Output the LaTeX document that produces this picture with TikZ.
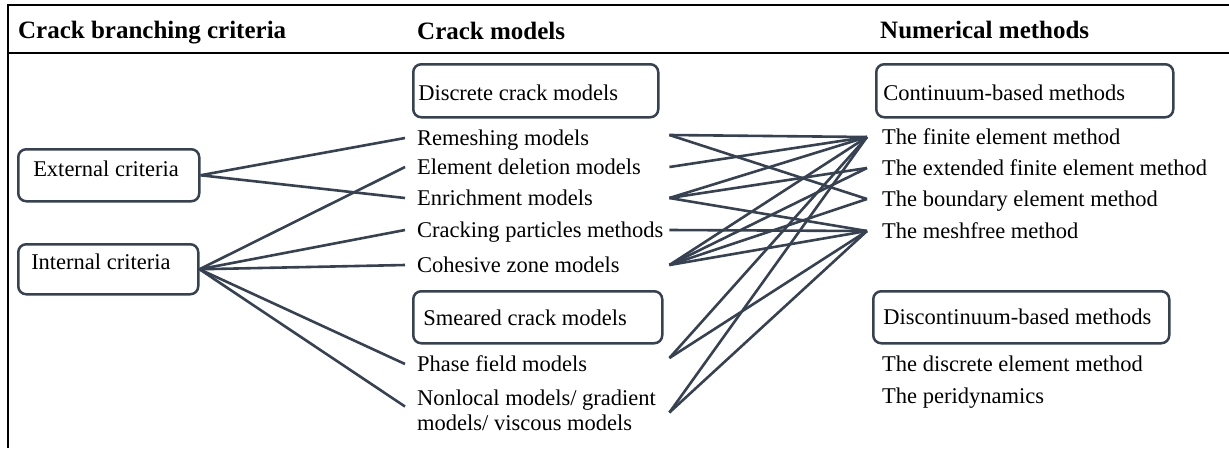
\documentclass[tikz,border=0pt]{standalone}
\usepackage{fontspec}
\setmainfont{Liberation Serif}
\definecolor{ln}{HTML}{364152}
\newcommand\mylbox[2]{\makebox[#1][l]{#2}}
\begin{document}
\begin{tikzpicture}[x=1pt,y=-1pt,
  bodyfont/.style={font=\fontsize{22.5}{25}\selectfont},
  box/.style={bodyfont, draw=ln, line width=2.5pt, rounded corners=8pt, anchor=north west, inner ysep=2pt},
  item/.style={bodyfont, anchor=base west, inner ysep=0pt, text height=18pt, text depth=4pt},
  cmitem/.style={item, inner xsep=12pt},
  nmitem/.style={item, inner xsep=15pt},
  conn/.style={draw=ln, line width=2.6pt},
  frame/.style={draw=black, line width=2.4pt},
  head/.style={anchor=base west, inner sep=0pt, font=\fontsize{25}{28}\selectfont\bfseries}]
\useasboundingbox (0,0) rectangle (1229,448);
% frame
\coordinate (ftl) at (8,5);
\coordinate (ftr) at (1229,5);
\coordinate (fbl) at (8,448);
\coordinate (htl) at (8,53);
\coordinate (htr) at (1229,53);
\draw[frame] (ftr) -- (ftl) -- (fbl);
\draw[frame] (htl) -- (htr);
% headers
\node[head] (h1) at (18,38) {Crack branching criteria};
\node[head] (h2) at (417,39) {Crack models};
\node[head] (h3) at (880,38) {Numerical methods};
% boxes
\node[box, inner xsep=15pt, minimum height=52pt, text height=15pt, text depth=13pt] (ext) at (17,148) {\mylbox{151pt}{External criteria}};
\node[box, inner xsep=13pt, minimum height=50pt, text height=15pt, text depth=15pt] (int) at (17,243) {\mylbox{154pt}{Internal criteria}};
\node[box, inner xsep=5pt, minimum height=53pt, text height=19pt, text depth=0pt] (dcm) at (412,63) {\mylbox{235pt}{Discrete crack models}};
\node[box, inner xsep=7pt, minimum height=53pt, text height=19pt, text depth=0pt] (cbm) at (875,63) {\mylbox{283pt}{Continuum-based methods}};
\node[box, inner xsep=10pt, minimum height=52pt, text height=16pt, text depth=0pt] (scm) at (412,290) {\mylbox{229pt}{Smeared crack models}};
\node[box, inner xsep=10pt, minimum height=52pt, text height=15pt, text depth=1pt] (dbm) at (872,290) {\mylbox{276pt}{Discontinuum-based methods}};
% crack model items
\node[cmitem] (rem) at (405,145) {\mylbox{240pt}{Remeshing models}};
\node[cmitem] (eld) at (405,174) {\mylbox{240pt}{Element deletion models}};
\node[cmitem] (enr) at (405,205) {\mylbox{240pt}{Enrichment models}};
\node[cmitem] (crp) at (405,237) {\mylbox{240pt}{Cracking particles methods}};
\node[cmitem] (coh) at (405,272) {\mylbox{240pt}{Cohesive zone models}};
\node[cmitem] (phf) at (405,371) {\mylbox{240pt}{Phase field models}};
\node[bodyfont, anchor=base west, inner ysep=0pt, inner xsep=12pt] (nl) at (405,405) {\mylbox{240pt}{\begin{tabular}[t]{@{}l@{}}Nonlocal models/ gradient\\models/ viscous models\end{tabular}}};
% numerical method items
\node[nmitem] (fem) at (867,144) {The finite element method};
\node[nmitem] (xfem) at (867,175) {The extended finite element method};
\node[nmitem] (bem) at (867,206) {The boundary element method};
\node[nmitem] (mf) at (867,238) {The meshfree method};
\node[nmitem] (dem) at (867,371) {The discrete element method};
\node[nmitem] (peri) at (867,403) {The peridynamics};
% connectors: criteria -> crack models
\draw[conn] (ext.east) -- (rem.west);
\draw[conn] (ext.east) -- (enr.west);
\draw[conn] (int.east) -- (eld.west);
\draw[conn] (int.east) -- (crp.west);
\draw[conn] (int.east) -- (coh.west);
\draw[conn] (int.east) -- (phf.west);
\draw[conn] (int.east) -- ([yshift=6pt]nl.west);
% connectors: crack models -> numerical methods
\draw[conn] ([yshift=3pt]rem.east) -- (fem.west);
\draw[conn] ([yshift=3pt]rem.east) -- (bem.west);
\draw[conn] (eld.east) -- (fem.west);
\draw[conn] (enr.east) -- (fem.west);
\draw[conn] (enr.east) -- (xfem.west);
\draw[conn] (enr.east) -- (mf.west);
\draw[conn] (crp.east) -- (mf.west);
\draw[conn] (coh.east) -- (fem.west);
\draw[conn] (coh.east) -- (xfem.west);
\draw[conn] (coh.east) -- (bem.west);
\draw[conn] (coh.east) -- (mf.west);
\draw[conn] ([yshift=6pt]phf.east) -- (fem.west);
\draw[conn] ([yshift=6pt]phf.east) -- (mf.west);
\draw[conn] (nl.east) -- (fem.west);
\draw[conn] (nl.east) -- (mf.west);
\end{tikzpicture}
\end{document}
